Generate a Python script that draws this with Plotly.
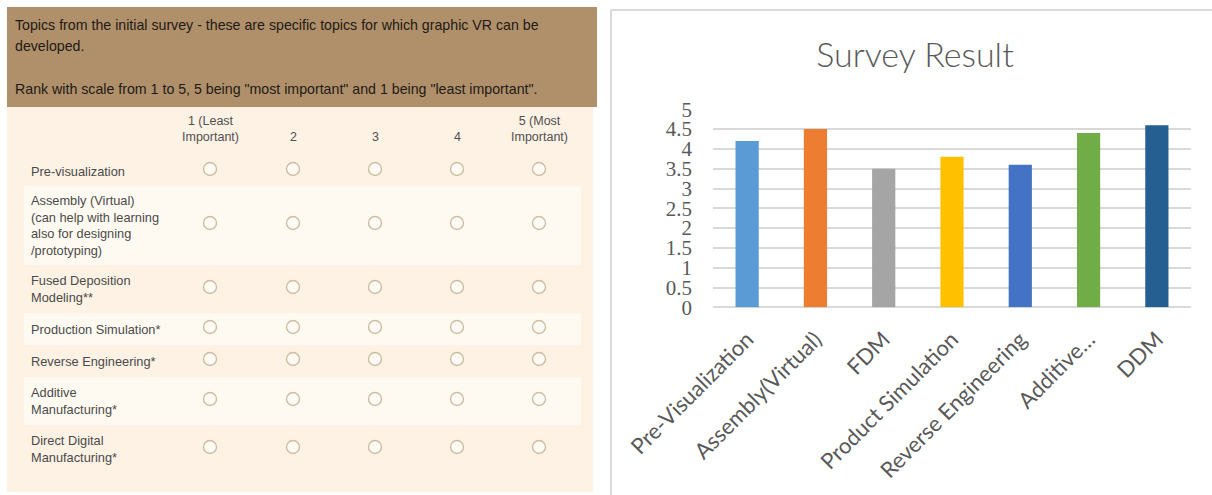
import plotly.graph_objects as go

# ---------------- data ----------------
# Survey form (left panel)
intro_lines = [
    "Topics from the initial survey - these are specific topics for which graphic VR can be",
    "developed.",
    "",
    "Rank with scale from 1 to 5, 5 being \"most important\" and 1 being \"least important\".",
]
scale_headers = ["1 (Least<br>Important)", "2", "3", "4", "5 (Most<br>Important)"]
topic_lines = [
    ["Pre-visualization"],
    ["Assembly (Virtual)", "(can help with learning", "also for designing", "/prototyping)"],
    ["Fused Deposition", "Modeling**"],
    ["Production Simulation*"],
    ["Reverse Engineering*"],
    ["Additive", "Manufacturing*"],
    ["Direct Digital", "Manufacturing*"],
]

# Survey result (right panel)
categories = ["Pre-Visualization", "Assembly(Virtual)", "FDM", "Product Simulation",
              "Reverse Engineering", "Additive…", "DDM"]
scores = [4.2, 4.5, 3.5, 3.8, 3.6, 4.4, 4.6]
bar_colors = ["#5B9BD5", "#ED7D31", "#A5A5A5", "#FFC000", "#4472C4", "#70AD47", "#255E91"]

# ---------------- layout constants (pixels) ----------------
W, H = 1212, 495
form_w = 600
col_x = [210, 293, 375, 457, 539]
row_y = [169, 223, 287, 327, 359, 399, 447]
stripe_rows = [(186, 265), (313, 345), (377, 425)]
intro_y = [25, 46, 67, 89]

FORM_FONT = "Liberation Sans, Arial, sans-serif"
CHART_FONT = "Lato, Open Sans, sans-serif"
GREY = "#595959"

fig = go.Figure()

# ---------------- right: bar chart ----------------
fig.add_trace(go.Bar(
    x=categories, y=scores,
    marker=dict(color=bar_colors, line=dict(width=0)),
    width=0.34,
    xaxis="x", yaxis="y",
    hoverinfo="x+y",
))

# ---------------- left: survey form radio grid ----------------
rx, ry = [], []
for yy in row_y:
    for xx in col_x:
        rx.append(xx)
        ry.append(yy)
fig.add_trace(go.Scatter(
    x=rx, y=ry, mode="markers",
    marker=dict(symbol="circle", size=13, color="#FFFBF4",
                line=dict(color="#CDBDA3", width=1.4)),
    xaxis="x2", yaxis="y2", hoverinfo="skip",
))

shapes = []
# form body and header
shapes.append(dict(type="rect", xref="x2", yref="y2", x0=7, x1=593, y0=107, y1=492,
                   fillcolor="#FDF2E4", line=dict(width=0), layer="below"))
for y0, y1 in stripe_rows:
    shapes.append(dict(type="rect", xref="x2", yref="y2", x0=24, x1=581, y0=y0, y1=y1,
                       fillcolor="#FFFAF1", line=dict(width=0), layer="below"))
shapes.append(dict(type="rect", xref="x2", yref="y2", x0=7, x1=597, y0=7, y1=107,
                   fillcolor="#B0906A", line=dict(width=0), layer="below"))
# chart frame
shapes.append(dict(type="rect", xref="paper", yref="paper",
                   x0=611 / W, x1=1.01, y0=-0.01, y1=1 - 10 / H,
                   fillcolor="white", line=dict(color="#D9D9D9", width=2), layer="below"))

annotations = []
for line, yy in zip(intro_lines, intro_y):
    if line:
        annotations.append(dict(text=line, x=13, y=yy,
                                xref="x2", yref="y2",
                                xanchor="left", yanchor="middle", showarrow=False,
                                font=dict(family=FORM_FONT, size=14.2, color="#1E1A15")))
for hdr, xx in zip(scale_headers, col_x):
    annotations.append(dict(text=hdr, x=xx, y=146, xref="x2", yref="y2",
                            xanchor="center", yanchor="bottom", showarrow=False, align="center",
                            font=dict(family=FORM_FONT, size=12.5, color="#505050")))
for lines, yy in zip(topic_lines, row_y):
    annotations.append(dict(text="<br>".join(lines), x=29, y=yy + 2, xref="x2", yref="y2",
                            xanchor="left", yanchor="middle", showarrow=False, align="left",
                            font=dict(family=FORM_FONT, size=12.8, color="#4A4A4A")))

fig.update_layout(
    width=W, height=H,
    margin=dict(l=0, r=0, t=0, b=0, autoexpand=False),
    paper_bgcolor="white", plot_bgcolor="rgba(0,0,0,0)",
    showlegend=False,
    title=dict(text="Survey Result", x=915 / W, xanchor="center",
               y=1 - 55 / H, yanchor="middle", automargin=False,
               font=dict(family=CHART_FONT, size=34, color=GREY, weight=300)),
    xaxis=dict(domain=[713 / W, 1191 / W], anchor="y", automargin=False,
               tickangle=-45, showgrid=False, showline=False, zeroline=False,
               tickfont=dict(family=CHART_FONT, size=22, color=GREY),
               ticks="", ticklabelstandoff=14, fixedrange=True),
    yaxis=dict(domain=[1 - 307.3 / H, 1 - 109.3 / H], anchor="x", automargin=False,
               range=[0, 5], dtick=0.5, tick0=0,
               showgrid=True, gridcolor="#D9D9D9", gridwidth=1.5,
               zeroline=True, zerolinecolor="#D9D9D9", zerolinewidth=1.5,
               showline=False, ticks="", ticklabelstandoff=20,
               tickfont=dict(family="Liberation Serif, serif", size=21, color=GREY),
               fixedrange=True),
    xaxis2=dict(domain=[0, form_w / W], anchor="y2", range=[0, form_w], automargin=False,
                visible=False, fixedrange=True),
    yaxis2=dict(domain=[0, 1], anchor="x2", range=[H, 0], automargin=False,
                visible=False, fixedrange=True),
    shapes=shapes,
    annotations=annotations,
)

fig.write_html("out.html")
